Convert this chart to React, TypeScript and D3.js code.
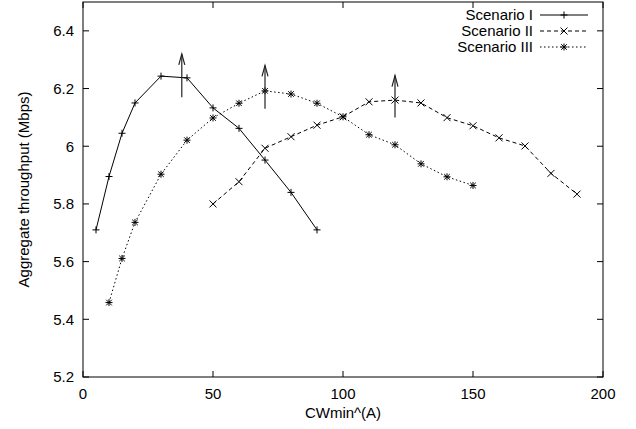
import React from "react";
import * as d3 from "d3";

const xI = [5, 10, 15, 20, 30, 40, 50, 60, 70, 80, 90];
const yI = [5.71, 5.895, 6.045, 6.15, 6.243, 6.237, 6.133, 6.062, 5.952, 5.84, 5.71];
const xII = [50, 60, 70, 80, 90, 100, 110, 120, 130, 140, 150, 160, 170, 180, 190];
const yII = [5.8, 5.877, 5.993, 6.033, 6.073, 6.102, 6.154, 6.16, 6.15, 6.099, 6.071, 6.029, 6.001, 5.906, 5.834];
const xIII = [10, 15, 20, 30, 40, 50, 60, 70, 80, 90, 100, 110, 120, 130, 140, 150];
const yIII = [5.458, 5.611, 5.736, 5.903, 6.021, 6.098, 6.149, 6.192, 6.181, 6.149, 6.102, 6.04, 6.005, 5.939, 5.894, 5.864];

const arrowX = [38, 70, 120];
const arrowFrom = [6.17, 6.13, 6.1];
const arrowTo = [6.32, 6.28, 6.245];

const xTicks = [0, 50, 100, 150, 200];
const yTicks = [5.2, 5.4, 5.6, 5.8, 6.0, 6.2, 6.4];
const yTickLabels = ["5.2", "5.4", "5.6", "5.8", "6", "6.2", "6.4"];

const seriesNames = ["Scenario I", "Scenario II", "Scenario III"];

const W = 636, H = 429;
const L = 83, R = 603, T = 2, B = 377;
const FONT = "'Liberation Sans', Arial, Helvetica, sans-serif";
const FS = 15;

const x = d3.scaleLinear().domain([0, 200]).range([L, R]);
const y = d3.scaleLinear().domain([5.2, 6.5]).range([B, T]);

type Marker = "plus" | "cross" | "star";

function markerPath(cx: number, cy: number, m: Marker, s = 3.5) {
  const p = d3.path();
  if (m === "plus" || m === "star") {
    p.moveTo(cx - s, cy); p.lineTo(cx + s, cy);
    p.moveTo(cx, cy - s); p.lineTo(cx, cy + s);
  }
  if (m === "cross" || m === "star") {
    const k = m === "star" ? s * 0.8 : s;
    p.moveTo(cx - k, cy - k); p.lineTo(cx + k, cy + k);
    p.moveTo(cx - k, cy + k); p.lineTo(cx + k, cy - k);
  }
  return p.toString();
}

const series = [
  { xs: xI, ys: yI, marker: "plus" as Marker, dash: undefined as string | undefined },
  { xs: xII, ys: yII, marker: "cross" as Marker, dash: "4,3" },
  { xs: xIII, ys: yIII, marker: "star" as Marker, dash: "1.5,2.5" },
];

export default function App() {
  const line = d3.line<[number, number]>().x(d => x(d[0])).y(d => y(d[1]));
  const tl = 6;
  return (
    <svg width={W} height={H} style={{ position: "absolute", left: 0, top: 0, background: "#fff" }}
      fontFamily={FONT}>
      <rect x={0} y={0} width={W} height={H} fill="#fff" />
      {xTicks.map((t, i) => (
        <g key={"xt" + i}>
          <line x1={x(t)} x2={x(t)} y1={B} y2={B - tl} stroke="#000" />
          <line x1={x(t)} x2={x(t)} y1={T} y2={T + tl} stroke="#000" />
          <text x={x(t)} y={399} textAnchor="middle" fontSize={FS}>{t}</text>
        </g>
      ))}
      {yTicks.map((t, i) => (
        <g key={"yt" + i}>
          <line x1={L} x2={L + tl} y1={y(t)} y2={y(t)} stroke="#000" />
          <line x1={R} x2={R - tl} y1={y(t)} y2={y(t)} stroke="#000" />
          <text x={74} y={y(t) + 5.3} textAnchor="end" fontSize={FS}>{yTickLabels[i]}</text>
        </g>
      ))}
      <rect x={L} y={T} width={R - L} height={B - T} fill="none" stroke="#000" strokeWidth={1} />
      <text x={(L + R) / 2} y={418} textAnchor="middle" fontSize={FS}>CWmin^(A)</text>
      <text transform={`translate(29,${(T + B) / 2}) rotate(-90)`} textAnchor="middle" fontSize={FS}>
        Aggregate throughput (Mbps)
      </text>
      {series.map((s, si) => {
        const pts = s.xs.map((v, i) => [v, s.ys[i]] as [number, number]);
        return (
          <g key={"s" + si}>
            <path d={line(pts) || ""} fill="none" stroke="#000" strokeWidth={1} strokeDasharray={s.dash} />
            {pts.map((p, i) => (
              <path key={i} d={markerPath(x(p[0]), y(p[1]), s.marker)} stroke="#000" strokeWidth={1} fill="none" />
            ))}
          </g>
        );
      })}
      {arrowX.map((ax, i) => {
        const px = x(ax), y1 = y(arrowFrom[i]), y2 = y(arrowTo[i]);
        return (
          <g key={"a" + i} stroke="#222" strokeWidth={1.2} fill="none">
            <line x1={px} x2={px} y1={y1} y2={y2} />
            <path d={`M${px - 3},${y2 + 11} L${px},${y2} L${px + 3},${y2 + 11}`} />
          </g>
        );
      })}
      {seriesNames.map((n, i) => {
        const ly = 15 + i * 16;
        const s = series[i];
        return (
          <g key={"l" + i}>
            <text x={533} y={ly + 5.3} textAnchor="end" fontSize={FS}>{n}</text>
            <line x1={540} x2={588} y1={ly} y2={ly} stroke="#000" strokeWidth={1} strokeDasharray={s.dash} />
            <path d={markerPath(564, ly, s.marker)} stroke="#000" strokeWidth={1} fill="none" />
          </g>
        );
      })}
    </svg>
  );
}
